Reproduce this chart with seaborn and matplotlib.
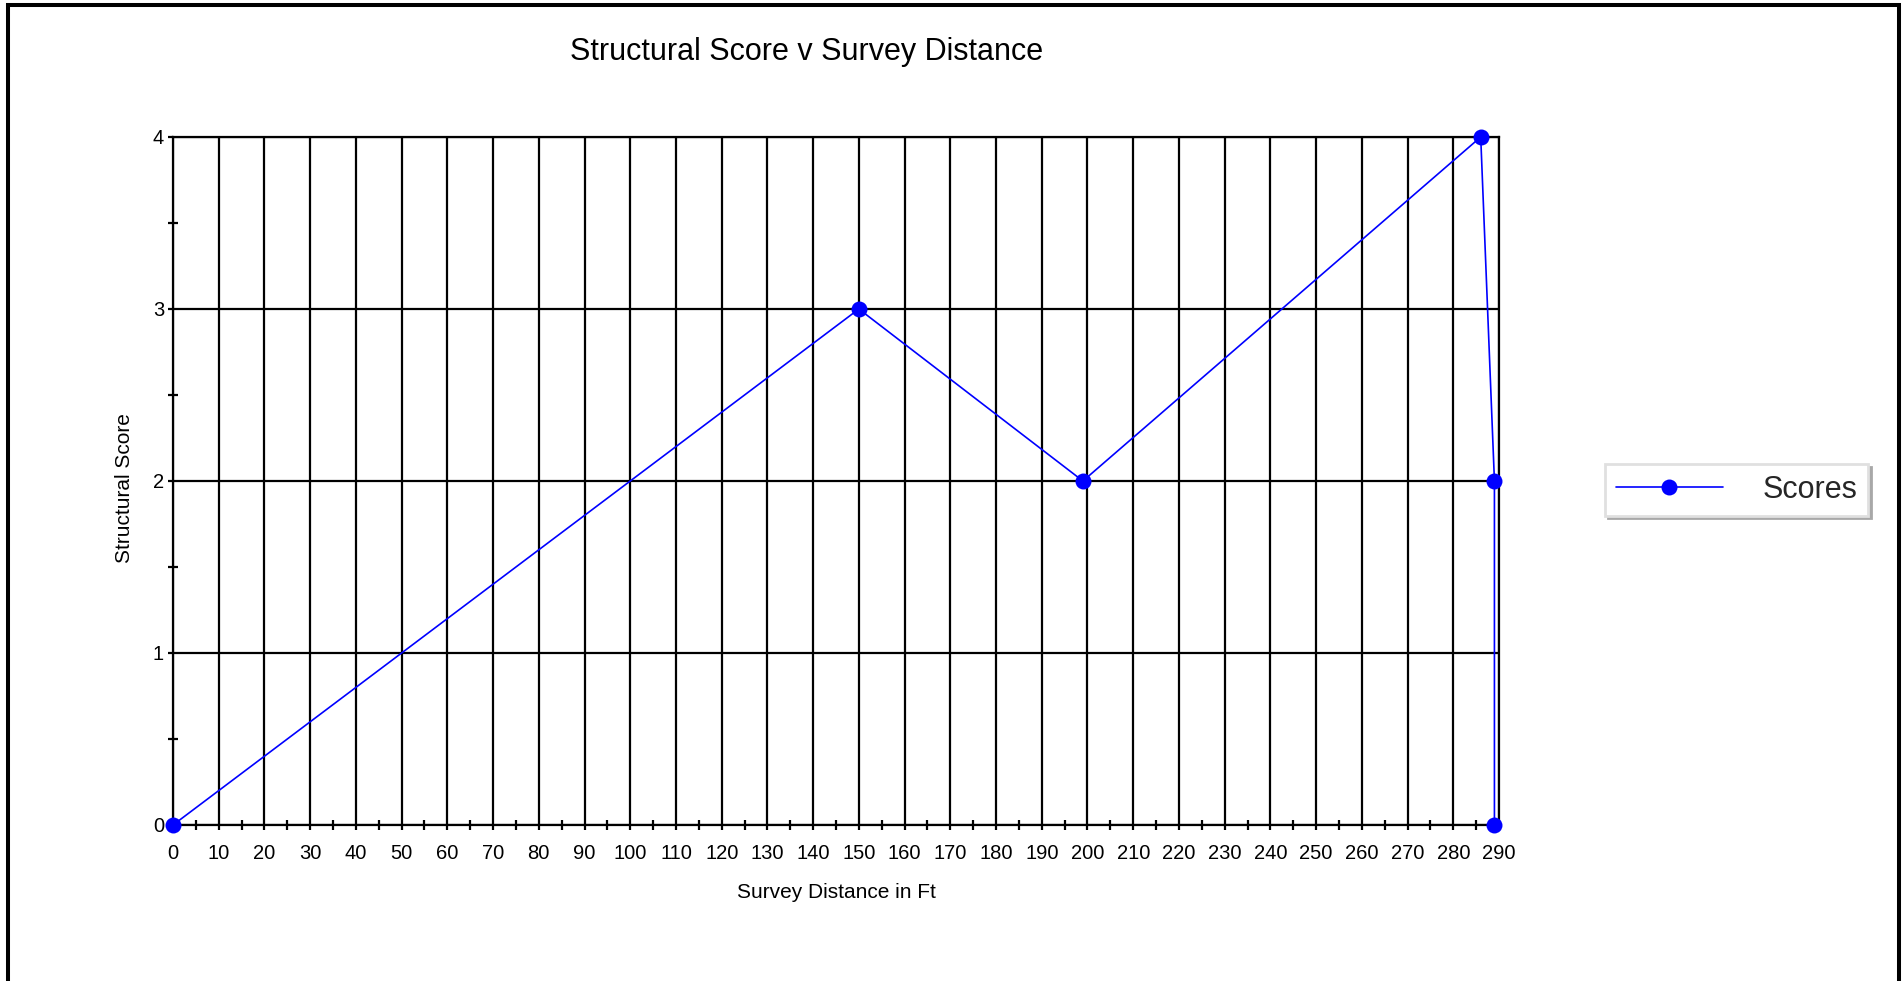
# Structural score along the survey distance
import matplotlib
matplotlib.use("Agg")
import matplotlib.pyplot as plt
import seaborn as sns
from matplotlib.patches import Rectangle
from matplotlib.ticker import MultipleLocator

# data
distance_ft = [0, 150, 199, 286, 289, 289]
scores = [0, 3, 2, 4, 2, 0]
x_ticks = list(range(0, 300, 10))
y_ticks = [0, 1, 2, 3, 4]

sns.set_theme(style="white")
plt.rcParams['font.family'] = ['Liberation Sans', 'DejaVu Sans']

fig = plt.figure(figsize=(19.02, 9.81), dpi=100)
ax = fig.add_axes([173 / 1902, 1 - 825 / 981, (1499 - 173) / 1902, (825 - 137) / 981])

sns.lineplot(x=distance_ft, y=scores, ax=ax, estimator=None, sort=False,
             color='#0000ff', linewidth=1.2, marker='o', markersize=11.5,
             markeredgewidth=0, label='Scores', clip_on=False, zorder=5)

ax.set_xlim(0, 290)
ax.set_ylim(0, 4)
ax.set_xticks(x_ticks)
ax.set_yticks(y_ticks)
ax.xaxis.set_minor_locator(MultipleLocator(5))
ax.yaxis.set_minor_locator(MultipleLocator(0.5))
ax.grid(True, which='major', color='black', linewidth=1.6)
ax.set_axisbelow(True)
for s in ax.spines.values():
    s.set_color('black')
    s.set_linewidth(1.6)

ax.tick_params(which='major', direction='out', length=3.5, width=1.6, color='black',
               labelsize=14.5, labelcolor='black', bottom=True, left=True)
ax.tick_params(axis='x', which='major', pad=10)
ax.tick_params(axis='y', which='major', pad=3)
ax.tick_params(which='minor', direction='inout', length=6.5, width=1.6, color='black',
               bottom=True, left=True)

ax.set_xlabel('Survey Distance in Ft', fontsize=15, color='black', va='center')
ax.xaxis.set_label_coords(0.5, (825 - 892) / 688)
ax.set_ylabel('Structural Score', fontsize=15, color='black', va='center')
ax.yaxis.set_label_coords((124 - 173) / 1326, 0.49)

fig.text(807 / 1902, 1 - 52 / 981, 'Structural Score v Survey Distance',
         fontsize=22, ha='center', va='center', color='black')

leg = ax.legend(loc='center left', bbox_to_anchor=(1605 / 1902, 1 - 490 / 981),
                bbox_transform=fig.transFigure, borderaxespad=0, fontsize=22,
                handlelength=3.5, handletextpad=1.3, borderpad=0.35,
                fancybox=False, frameon=True,
                shadow={'facecolor': '#a8a8a8', 'edgecolor': '#a8a8a8', 'alpha': 1})
leg.get_frame().set_edgecolor('#e0e0e0')
leg.get_frame().set_linewidth(2)

# outer border (left, top, right)
fig.patches.append(Rectangle((8 / 1902, -0.05), (1899 - 8) / 1902, 1.05 - 4.5 / 981,
                             transform=fig.transFigure, fill=False,
                             edgecolor='black', linewidth=2.9))

fig.savefig('out.png', dpi=100, facecolor='white')
